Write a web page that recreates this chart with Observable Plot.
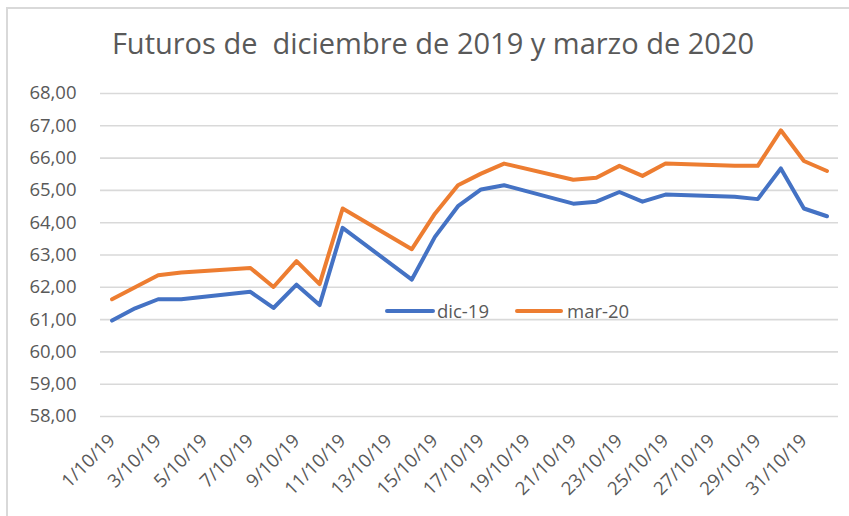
<!DOCTYPE html>
<html>
<head>
<meta charset="utf-8">
<script src="https://cdn.jsdelivr.net/npm/d3@7"></script>
<script src="https://cdn.jsdelivr.net/npm/@observablehq/plot@0.6"></script>
<style>
  body { margin: 0; background: #fff; }
  #chart { position: relative; width: 849px; height: 516px; overflow: hidden; background: #fff;
           font-family: "Open Sans", sans-serif; color: #595959; }
  #frame { position: absolute; left: 6px; top: 7px; right: -10px; bottom: -10px;
           border-left: 2px solid #d9d9d9; border-top: 2px solid #d9d9d9; }
  #title { position: absolute; left: 0; width: 866px; top: 28px; text-align: center;
           font-size: 29px; line-height: 1; white-space: pre; }
  #plot { position: absolute; left: 0; top: 0; }
  .sw { position: absolute; height: 4px; border-radius: 2px; }
  .lg { position: absolute; font-size: 18.5px; line-height: 1; }
</style>
</head>
<body>
<div id="chart">
  <div id="frame"></div>
  <div id="plot"></div>
  <div id="title"></div>
  <div id="legend"></div>
</div>
<script>
const titleText = "Futuros de  diciembre de 2019 y marzo de 2020";
const series = ["dic-19", "mar-20"];
const colors = ["#4472c4", "#ed7d31"];
const dates = ["1/10/19","2/10/19","3/10/19","4/10/19","7/10/19","8/10/19","9/10/19","10/10/19","11/10/19",
  "14/10/19","15/10/19","16/10/19","17/10/19","18/10/19","21/10/19","22/10/19","23/10/19","24/10/19",
  "25/10/19","28/10/19","29/10/19","30/10/19","31/10/19","1/11/19"];
const dic19 = [60.97, 61.35, 61.63, 61.63, 61.86, 61.36, 62.08, 61.45, 63.84, 62.24, 63.56, 64.51,
  65.03, 65.16, 64.59, 64.65, 64.95, 64.65, 64.87, 64.80, 64.73, 65.68, 64.44, 64.20];
const mar20 = [61.63, 62.00, 62.37, 62.46, 62.60, 62.01, 62.81, 62.10, 64.44, 63.18, 64.28, 65.16,
  65.52, 65.83, 65.33, 65.39, 65.76, 65.45, 65.83, 65.76, 65.76, 66.86, 65.91, 65.60];
const yTicks = [58, 59, 60, 61, 62, 63, 64, 65, 66, 67, 68];
const xTickLabels = ["1/10/19","3/10/19","5/10/19","7/10/19","9/10/19","11/10/19","13/10/19","15/10/19",
  "17/10/19","19/10/19","21/10/19","23/10/19","25/10/19","27/10/19","29/10/19","31/10/19"];

const parse = s => { const [d, m, y] = s.split("/").map(Number); return new Date(Date.UTC(2000 + y, m - 1, d)); };
const data = dates.flatMap((d, i) => [
  {date: parse(d), value: dic19[i], serie: series[0]},
  {date: parse(d), value: mar20[i], serie: series[1]}
]);
const labelMap = new Map(xTickLabels.map(s => [+parse(s), s]));
const xDomain = [new Date(Date.UTC(2019, 8, 30, 12)), new Date(Date.UTC(2019, 10, 1, 12))];

const chart = Plot.plot({
  width: 849, height: 516,
  marginLeft: 100, marginRight: 11, marginTop: 93, marginBottom: 100,
  style: { fontFamily: "'Open Sans', sans-serif", fontSize: "18.5px", color: "#595959", background: "transparent", overflow: "visible" },
  x: { type: "utc", domain: xDomain },
  y: { domain: [58, 68] },
  color: { domain: series, range: colors },
  marks: [
    Plot.gridY(yTicks, { stroke: "#d9d9d9", strokeOpacity: 1, strokeWidth: 1.6 }),
    Plot.axisY({ ticks: yTicks, tickSize: 0, tickPadding: 24, label: null, fill: "#595959",
      tickFormat: d => d.toFixed(2).replace(".", ",") }),
    Plot.axisX({ ticks: xTickLabels.map(parse), tickSize: 0, tickPadding: 21, tickRotate: -45, label: null,
      fill: "#595959", tickFormat: d => labelMap.get(+d) }),
    Plot.line(data, { x: "date", y: "value", z: "serie", stroke: "serie", strokeWidth: 4,
      strokeLinejoin: "round", strokeLinecap: "round" })
  ]
});
document.getElementById("plot").appendChild(chart);
document.getElementById("title").textContent = titleText;

const legend = document.getElementById("legend");
const legendPos = [[385, 437], [515, 567]];
series.forEach((s, i) => {
  const sw = document.createElement("div");
  sw.className = "sw";
  sw.style.left = legendPos[i][0] + "px"; sw.style.top = "309px";
  sw.style.width = (i === 0 ? 50 : 48) + "px"; sw.style.background = colors[i];
  legend.appendChild(sw);
  const lb = document.createElement("div");
  lb.className = "lg";
  lb.style.left = legendPos[i][1] + "px"; lb.style.top = "302px";
  lb.textContent = s;
  legend.appendChild(lb);
});
</script>
</body>
</html>
